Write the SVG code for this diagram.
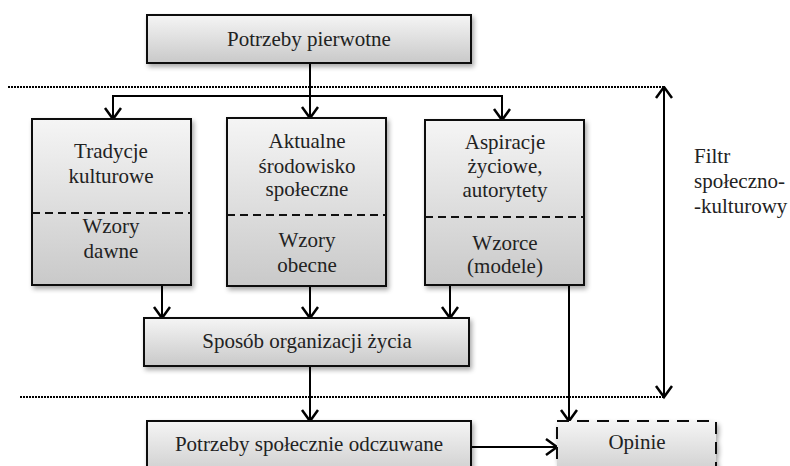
<svg xmlns="http://www.w3.org/2000/svg" width="790" height="466" viewBox="0 0 790 466">
  <style>
    .box { fill: url(#boxFill); stroke: #111; stroke-width: 2; filter: url(#shadow); }
    .dashbox { fill: url(#boxFill); stroke: #111; stroke-width: 2; stroke-dasharray: 12 8; filter: url(#shadow); }
    .split { stroke: #111; stroke-width: 2; stroke-dasharray: 8 5; fill: none; }
    .label { font-family: "Liberation Serif", "Times New Roman", serif; font-size: 21px; fill: #222; text-anchor: middle; }
    .side { font-family: "Liberation Serif", "Times New Roman", serif; font-size: 21px; fill: #222; }
    .conn { stroke: #000; stroke-width: 2; fill: none; }
    .arrow { stroke: #000; stroke-width: 2; fill: none; marker-end: url(#vhead); }
    .dotted { stroke: #000; stroke-width: 2; stroke-dasharray: 2 1; fill: none; }
  </style>
  <defs>
    <linearGradient id="boxFill" x1="0" y1="0" x2="0" y2="1">
      <stop offset="0" stop-color="#f5f5f5"/>
      <stop offset="1" stop-color="#c9c9c9"/>
    </linearGradient>
    <filter id="shadow" x="-10%" y="-10%" width="125%" height="130%">
      <feGaussianBlur in="SourceAlpha" stdDeviation="2.5"/>
      <feOffset dx="2" dy="3" result="blur"/>
      <feComponentTransfer><feFuncA type="linear" slope="0.35"/></feComponentTransfer>
      <feMerge><feMergeNode/><feMergeNode in="SourceGraphic"/></feMerge>
    </filter>
    <marker id="vhead" markerUnits="userSpaceOnUse" markerWidth="20" markerHeight="20" refX="13" refY="9" orient="auto">
      <path d="M2,1 L13,9 L2,17" fill="none" stroke="#000" stroke-width="2.5"/>
    </marker>
    <marker id="vheadStart" markerUnits="userSpaceOnUse" markerWidth="20" markerHeight="20" refX="1" refY="9" orient="auto">
      <path d="M12,1 L1,9 L12,17" fill="none" stroke="#000" stroke-width="2.5"/>
    </marker>
  </defs>

  <!-- filter band boundaries -->
  <g id="filter-band">
    <line class="dotted" x1="8" y1="87" x2="664" y2="87"/>
    <line class="dotted" x1="20" y1="397" x2="664" y2="397"/>
  </g>

  <g id="connectors">
    <line class="arrow" x1="310" y1="63" x2="310" y2="118"/>
    <line class="conn" x1="112" y1="96" x2="503" y2="96"/>
    <line class="arrow" x1="113" y1="96" x2="113" y2="119"/>
    <line class="arrow" x1="502" y1="96" x2="502" y2="120"/>
    <line class="arrow" x1="162" y1="285" x2="162" y2="318"/>
    <line class="arrow" x1="310" y1="286" x2="310" y2="318"/>
    <line class="arrow" x1="450" y1="285" x2="450" y2="318"/>
    <line class="arrow" x1="569" y1="285" x2="569" y2="421"/>
    <line class="arrow" x1="310" y1="366" x2="310" y2="421"/>
    <line class="arrow" x1="471" y1="447" x2="557" y2="447"/>
    <line class="conn" x1="664" y1="87" x2="664" y2="397" marker-start="url(#vheadStart)" marker-end="url(#vhead)"/>
  </g>

  <g id="potrzeby-pierwotne">
    <rect class="box" x="147" y="15" width="324" height="48"/>
    <text class="label" x="309" y="46">Potrzeby pierwotne</text>
  </g>

  <g id="tradycje">
    <rect class="box" x="32" y="119" width="159" height="166"/>
    <line class="split" x1="32" y1="213" x2="191" y2="213"/>
    <text class="label" x="111" y="158">Tradycje</text>
    <text class="label" x="111" y="183">kulturowe</text>
    <text class="label" x="111" y="233">Wzory</text>
    <text class="label" x="111" y="258">dawne</text>
  </g>

  <g id="srodowisko">
    <rect class="box" x="227" y="118" width="159" height="168"/>
    <line class="split" x1="227" y1="215" x2="386" y2="215"/>
    <text class="label" x="307" y="148">Aktualne</text>
    <text class="label" x="307" y="173">środowisko</text>
    <text class="label" x="307" y="196">społeczne</text>
    <text class="label" x="307" y="247">Wzory</text>
    <text class="label" x="307" y="272">obecne</text>
  </g>

  <g id="aspiracje">
    <rect class="box" x="425" y="120" width="159" height="165"/>
    <line class="split" x1="425" y1="217" x2="584" y2="217"/>
    <text class="label" x="505" y="149">Aspiracje</text>
    <text class="label" x="505" y="173">życiowe,</text>
    <text class="label" x="505" y="197">autorytety</text>
    <text class="label" x="505" y="250">Wzorce</text>
    <text class="label" x="505" y="273">(modele)</text>
  </g>

  <g id="sposob">
    <rect class="box" x="144" y="318" width="325" height="48"/>
    <text class="label" x="307" y="348">Sposób organizacji życia</text>
  </g>

  <g id="potrzeby-spoleczne">
    <rect class="box" x="147" y="421" width="324" height="60"/>
    <text class="label" x="309" y="451">Potrzeby społecznie odczuwane</text>
  </g>

  <g id="opinie">
    <rect class="dashbox" x="557" y="421" width="159" height="60"/>
    <text class="label" x="637" y="449">Opinie</text>
  </g>

  <g id="filtr-label">
    <text class="side" x="694" y="163">Filtr</text>
    <text class="side" x="694" y="188">społeczno-</text>
    <text class="side" x="694" y="213">-kulturowy</text>
  </g>
</svg>
